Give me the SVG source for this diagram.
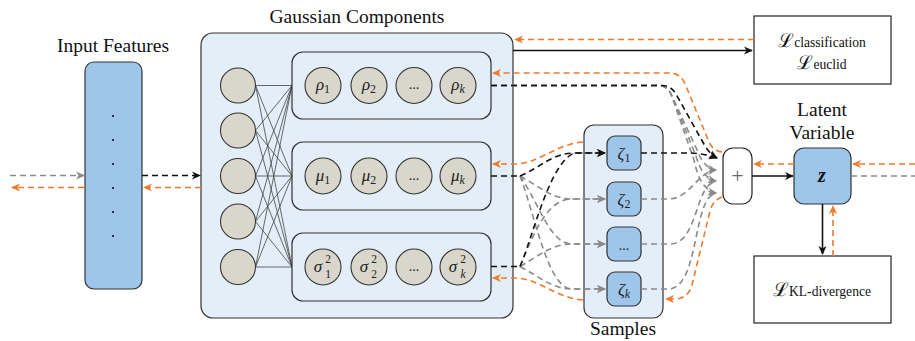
<svg xmlns="http://www.w3.org/2000/svg" width="915" height="341" viewBox="0 0 915 341">
<defs>
  <marker id="ak" viewBox="0 0 10 10" refX="9" refY="5" markerWidth="9" markerHeight="9" markerUnits="userSpaceOnUse" orient="auto">
    <path d="M0,0.5 L10,5 L0,9.5 L3,5 Z" fill="#111"/>
  </marker>
  <marker id="ag" viewBox="0 0 10 10" refX="9" refY="5" markerWidth="9" markerHeight="9" markerUnits="userSpaceOnUse" orient="auto">
    <path d="M0,0.5 L10,5 L0,9.5 L3,5 Z" fill="#8a8a8a"/>
  </marker>
  <marker id="ao" viewBox="0 0 10 10" refX="9" refY="5" markerWidth="9" markerHeight="9" markerUnits="userSpaceOnUse" orient="auto">
    <path d="M0,0.5 L10,5 L0,9.5 L3,5 Z" fill="#eb7b2d"/>
  </marker>
</defs>
<style>
  .box{fill:#e4eef8;stroke:#333;stroke-width:1.2}
  .sub-box{fill:#e4eef8;stroke:#333;stroke-width:1.2}
  .node{fill:#9dc6ea;stroke:#333;stroke-width:1.2}
  .neuron{fill:#d9d7cb;stroke:#333;stroke-width:1.1}
  .loss{fill:#fff;stroke:#222;stroke-width:1.2}
  .title{font-family:"Liberation Serif","Times New Roman",serif;font-size:19.5px;fill:#111;text-anchor:middle}
  .math{font-family:"Liberation Serif","Times New Roman",serif;font-style:italic;font-size:17px;fill:#222;text-anchor:middle}
  .idx{font-family:"Liberation Serif","Times New Roman",serif;font-size:11.5px;fill:#222;text-anchor:middle}
  .sub{font-size:12px;font-style:normal}
  .scr{font-family:"DejaVu Serif","Liberation Serif",serif;font-size:19px;fill:#111}
  .lsub{font-family:"Liberation Serif","Times New Roman",serif;font-size:13.6px;fill:#111}
  .w{stroke:#444;stroke-width:0.8;fill:none}
  .d{fill:none;stroke-width:1.6;stroke-dasharray:6 4}
  .s{fill:none;stroke-width:1.6}
  .k{stroke:#111}
  .g{stroke:#8a8a8a}
  .o{stroke:#eb7b2d}
</style>
<rect width="915" height="341" fill="#fff"/>

<!-- input feature vector -->
<g id="input-features">
  <text class="title" x="113" y="52">Input Features</text>
  <rect class="node" x="85" y="62" width="57" height="227" rx="9"/>
  <g fill="#111">
    <circle cx="113" cy="116" r="1.1"/>
    <circle cx="113" cy="140" r="1.1"/>
    <circle cx="113" cy="164" r="1.1"/>
    <circle cx="113" cy="188" r="1.1"/>
    <circle cx="113" cy="212" r="1.1"/>
    <circle cx="113" cy="236" r="1.1"/>
  </g>
</g>

<!-- gaussian components block -->
<g id="gaussian-components">
  <text class="title" x="357" y="23">Gaussian Components</text>
  <rect class="box" x="201" y="33" width="312" height="285" rx="12"/>
  <g class="w">
    <path d="M255.5,85.5 L292,85.5 M255.5,85.5 L292,176 M255.5,85.5 L292,267"/>
    <path d="M255.5,130.5 L292,85.5 M255.5,130.5 L292,176 M255.5,130.5 L292,267"/>
    <path d="M255.5,176 L292,85.5 M255.5,176 L292,176 M255.5,176 L292,267"/>
    <path d="M255.5,221.5 L292,85.5 M255.5,221.5 L292,176 M255.5,221.5 L292,267"/>
    <path d="M255.5,267 L292,85.5 M255.5,267 L292,176 M255.5,267 L292,267"/>
  </g>
  <g id="hidden-layer">
    <circle class="neuron" cx="238" cy="85.5" r="17.5"/>
    <circle class="neuron" cx="238" cy="130.5" r="17.5"/>
    <circle class="neuron" cx="238" cy="176" r="17.5"/>
    <circle class="neuron" cx="238" cy="221.5" r="17.5"/>
    <circle class="neuron" cx="238" cy="267" r="17.5"/>
  </g>
</g>

<g id="rho">
  <rect class="sub-box" x="292" y="52" width="199" height="67" rx="11"/>
  <circle class="neuron" cx="323" cy="85.5" r="18"/>
  <circle class="neuron" cx="369" cy="85.5" r="18"/>
  <circle class="neuron" cx="414" cy="85.5" r="18"/>
  <circle class="neuron" cx="458" cy="85.5" r="18"/>
  <text class="math" x="323" y="90">ρ<tspan class="sub" dy="3">1</tspan></text>
  <text class="math" x="369" y="90">ρ<tspan class="sub" dy="3">2</tspan></text>
  <text class="math" x="414" y="89" style="font-style:normal;font-size:14px">...</text>
  <text class="math" x="458" y="90">ρ<tspan dy="3" font-size="12">k</tspan></text>
</g>

<g id="mu">
  <rect class="sub-box" x="292" y="142" width="199" height="68" rx="11"/>
  <circle class="neuron" cx="323" cy="176" r="18"/>
  <circle class="neuron" cx="369" cy="176" r="18"/>
  <circle class="neuron" cx="414" cy="176" r="18"/>
  <circle class="neuron" cx="458" cy="176" r="18"/>
  <text class="math" x="323" y="180.5">μ<tspan class="sub" dy="3">1</tspan></text>
  <text class="math" x="369" y="180.5">μ<tspan class="sub" dy="3">2</tspan></text>
  <text class="math" x="414" y="180" style="font-style:normal;font-size:14px">...</text>
  <text class="math" x="458" y="180.5">μ<tspan dy="3" font-size="12">k</tspan></text>
</g>

<g id="sigma">
  <rect class="sub-box" x="292" y="233" width="199" height="68" rx="11"/>
  <circle class="neuron" cx="323" cy="267" r="18"/>
  <circle class="neuron" cx="369" cy="267" r="18"/>
  <circle class="neuron" cx="414" cy="267" r="18"/>
  <circle class="neuron" cx="458" cy="267" r="18"/>
  <text class="math" x="318" y="272">σ</text>
  <text class="idx" x="328" y="263">2</text>
  <text class="idx" x="328" y="278">1</text>
  <text class="math" x="364" y="272">σ</text>
  <text class="idx" x="374" y="263">2</text>
  <text class="idx" x="374" y="278">2</text>
  <text class="math" x="414" y="271" style="font-style:normal;font-size:14px">...</text>
  <text class="math" x="453" y="272">σ</text>
  <text class="idx" x="463" y="263">2</text>
  <text class="idx" x="463" y="278" font-style="italic">k</text>
</g>

<!-- samples -->
<g id="samples">
  <rect class="box" x="584" y="125" width="79" height="193" rx="10"/>
  <text class="title" x="623" y="335">Samples</text>
</g>
<g id="zeta-1">
  <rect class="node" x="607" y="136" width="34" height="34" rx="8"/>
  <text class="math" x="624" y="159">ζ<tspan class="sub" dy="3">1</tspan></text>
</g>
<g id="zeta-2">
  <rect class="node" x="607" y="182" width="34" height="34" rx="8"/>
  <text class="math" x="624" y="205">ζ<tspan class="sub" dy="3">2</tspan></text>
</g>
<g id="zeta-dots">
  <rect class="node" x="607" y="227" width="34" height="34" rx="8"/>
  <text class="math" x="624" y="250" style="font-style:normal;font-size:14px">...</text>
</g>
<g id="zeta-k">
  <rect class="node" x="607" y="272" width="34" height="34" rx="8"/>
  <text class="math" x="624" y="295">ζ<tspan dy="3" font-size="12">k</tspan></text>
</g>

<!-- sum -->
<g id="sum">
  <rect class="loss" x="723" y="148" width="29" height="56" rx="10"/>
  <text x="737.5" y="183" font-family="Liberation Serif, serif" font-size="22" fill="#666" text-anchor="middle">+</text>
</g>

<!-- latent variable -->
<g id="latent">
  <text class="title" x="822" y="116">Latent</text>
  <text class="title" x="822" y="139">Variable</text>
  <rect class="node" x="794" y="148" width="57" height="56" rx="10"/>
  <text x="822" y="182" font-family="Liberation Serif, serif" font-style="italic" font-weight="bold" font-size="20" fill="#111" text-anchor="middle">z</text>
</g>

<!-- losses -->
<g id="loss-classification">
  <rect class="loss" x="754" y="16" width="137" height="68"/>
  <text x="822" y="47" text-anchor="middle"><tspan class="scr">ℒ</tspan><tspan class="lsub">classification</tspan></text>
  <text x="822" y="69" text-anchor="middle"><tspan class="scr">ℒ</tspan><tspan class="lsub">euclid</tspan></text>
</g>
<g id="loss-kl">
  <rect class="loss" x="754" y="256" width="137" height="67"/>
  <text x="822" y="296" text-anchor="middle"><tspan class="scr">ℒ</tspan><tspan class="lsub">KL-divergence</tspan></text>
</g>

<!-- connectors -->
<g id="connectors">
  <!-- input side -->
  <path class="d g" d="M10,175.5 H84" marker-end="url(#ag)"/>
  <path class="d o" d="M84,187.5 H12" marker-end="url(#ao)"/>
  <path class="d k" d="M142,175.5 H200" marker-end="url(#ak)"/>
  <path class="d o" d="M201,187.5 H144" marker-end="url(#ao)"/>

  <!-- to classification loss -->
  <path class="s k" d="M513,50.5 H752" marker-end="url(#ak)"/>
  <path class="d o" d="M754,39.5 H515" marker-end="url(#ao)"/>

  <!-- rho to sum (one per sample) -->
  <path class="d g" d="M491,85.5 H658 Q667,85.5 671,94 L698,152 Q704,168 716,170" marker-end="url(#ag)"/>
  <path class="d g" d="M491,85.5 H658 Q667,85.5 671,94 L696,156 Q702,178 716,181" marker-end="url(#ag)"/>
  <path class="d g" d="M491,85.5 H658 Q667,85.5 671,94 L694,160 Q700,190 716,193" marker-end="url(#ag)"/>
  <path class="d k" d="M491,85.5 H662 Q671,85.5 676,94 L705,146 Q710,154 717,158" marker-end="url(#ak)"/>

  <!-- mu / sigma to samples -->
  <path class="d k" d="M491,176 H520"/>
  <path class="d k" d="M491,266.5 H520"/>
  <path class="d g" d="M520,176 C540,187 552,199 572,199 H605" marker-end="url(#ag)"/>
  <path class="d g" d="M520,176 C540,205 550,244 572,244 H605" marker-end="url(#ag)"/>
  <path class="d g" d="M520,176 C535,215 548,289 572,289 H605" marker-end="url(#ag)"/>
  <path class="d g" d="M520,266.5 C535,230 548,199 572,199 H605" marker-end="url(#ag)"/>
  <path class="d g" d="M520,266.5 C540,255 552,244 572,244 H605" marker-end="url(#ag)"/>
  <path class="d g" d="M520,266.5 C540,277 552,289 572,289 H605" marker-end="url(#ag)"/>
  <path class="d k" d="M520,176 C540,168 552,153 575,153 H605" marker-end="url(#ak)"/>
  <path class="d k" d="M520,266.5 C532,240 550,160 575,153 H605" marker-end="url(#ak)"/>

  <!-- samples to sum -->
  <path class="d g" d="M641,199 H668 C690,199 697,172 716,170" marker-end="url(#ag)"/>
  <path class="d g" d="M641,244 H670 C698,244 695,184 716,181" marker-end="url(#ag)"/>
  <path class="d g" d="M641,289 H668 C700,289 692,197 716,193" marker-end="url(#ag)"/>
  <path class="d k" d="M641,153 H688 Q702,153 717,158" marker-end="url(#ak)"/>

  <!-- backward flow into gaussian block -->
  <path class="d o" d="M583,142 C556,144 538,164 515,164 H493" marker-end="url(#ao)"/>
  <path class="d o" d="M583,300 C556,298 538,278 515,278 H493" marker-end="url(#ao)"/>
  <path class="d o" d="M722,152 Q713,151 709,142 L686,86 Q681,73 670,73 H493" marker-end="url(#ao)"/>
  <path class="d o" d="M722,197 Q713,200 710,211 L692,285 Q688,299 674,299 H666" marker-end="url(#ao)"/>

  <!-- sum to latent and losses -->
  <path class="s k" d="M752,176 H793" marker-end="url(#ak)"/>
  <path class="d o" d="M794,164 H754" marker-end="url(#ao)"/>
  <path class="d g" d="M851,176 H915"/>
  <path class="d o" d="M915,164 H853" marker-end="url(#ao)"/>
  <path class="s k" d="M822.5,204 V254" marker-end="url(#ak)"/>
  <path class="d o" d="M833,256 V206" marker-end="url(#ao)"/>
</g>
</svg>
